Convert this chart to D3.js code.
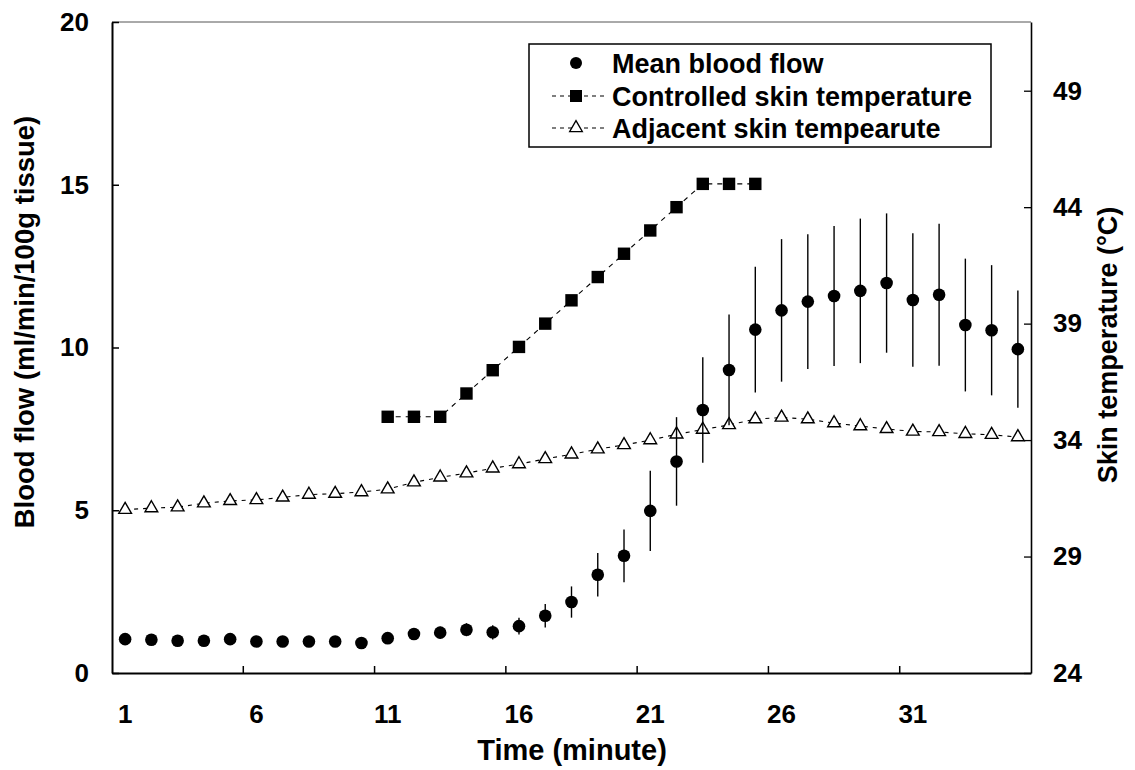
<!DOCTYPE html>
<html>
<head>
<meta charset="utf-8">
<script src="https://cdn.jsdelivr.net/npm/d3@7"></script>
<style>
  html, body { margin: 0; padding: 0; background: #fff; }
  svg text { font-family: "Liberation Sans", Arial, sans-serif; font-weight: bold; fill: #000; }
</style>
</head>
<body>
<svg id="chart" width="1135" height="770"></svg>
<script>
// ---- data ----
const minutes = [1,2,3,4,5,6,7,8,9,10,11,12,13,14,15,16,17,18,19,20,21,22,23,24,25,26,27,28,29,30,31,32,33,34,35];
const bloodFlow = [1.04,1.02,0.99,0.99,1.04,0.97,0.97,0.97,0.97,0.92,1.07,1.20,1.24,1.33,1.25,1.44,1.76,2.18,3.02,3.60,4.98,6.50,8.08,9.31,10.55,11.14,11.41,11.58,11.74,11.98,11.46,11.62,10.69,10.53,9.95];
const bloodFlowErr = [0.10,0.10,0.10,0.10,0.10,0.10,0.10,0.10,0.10,0.10,0.15,0.15,0.18,0.20,0.22,0.26,0.36,0.48,0.67,0.81,1.23,1.36,1.62,1.70,1.93,2.19,2.07,2.15,2.22,2.14,2.05,2.18,2.04,2.00,1.80];
const controlledTemp = [null,null,null,null,null,null,null,null,null,null,35,35,35,36,37,38,39,40,41,42,43,44,45,45,45,null,null,null,null,null,null,null,null,null,null];
const adjacentTemp = [31.01,31.08,31.12,31.29,31.39,31.43,31.54,31.66,31.70,31.77,31.89,32.19,32.40,32.58,32.79,32.97,33.19,33.39,33.61,33.79,34.00,34.25,34.45,34.65,34.90,34.97,34.90,34.73,34.60,34.48,34.37,34.35,34.27,34.23,34.13];
const xTickLabels = [1,6,11,16,21,26,31];
const leftTicks = [0,5,10,15,20];
const rightTicks = [24,29,34,39,44,49];
const legendLabels = ["Mean blood flow","Controlled skin temperature","Adjacent skin tempearute"];

// ---- layout ----
const svg = d3.select("#chart");
const L = 112, R = 1031, T = 22, B = 673;
const FONT = "Liberation Sans, Arial, sans-serif";
const TICK_FS = 26;

const x = d3.scaleBand().domain(minutes).range([L, R]).paddingInner(0).paddingOuter(0);
const cx = d => x(d) + x.bandwidth() / 2;
const yL = d3.scaleLinear().domain([0, 20]).range([B, T]);
const yR = d3.scaleLinear().domain([24, 51.95]).range([B, T]);

// frame (top)
svg.append("line").attr("x1", L).attr("x2", R).attr("y1", T).attr("y2", T)
  .attr("stroke", "#555").attr("stroke-width", 1);

// left axis
const gL = svg.append("g").attr("transform", `translate(${L},0)`)
  .call(d3.axisLeft(yL).tickValues(leftTicks).tickSizeInner(-7).tickSizeOuter(0).tickPadding(23));
gL.select(".domain").attr("stroke", "#000").attr("stroke-width", 2);
gL.selectAll(".tick line").attr("stroke", "#000").attr("stroke-width", 1.5);
gL.selectAll(".tick text").attr("font-size", TICK_FS).attr("font-family", FONT).attr("font-weight", "bold");

// right axis
const gR = svg.append("g").attr("transform", `translate(${R},0)`)
  .call(d3.axisRight(yR).tickValues(rightTicks).tickSizeInner(-7).tickSizeOuter(0).tickPadding(22));
gR.select(".domain").attr("stroke", "#000").attr("stroke-width", 1.6);
gR.selectAll(".tick line").attr("stroke", "#000").attr("stroke-width", 1.3);
gR.selectAll(".tick text").attr("font-size", TICK_FS).attr("font-family", FONT).attr("font-weight", "bold");

// bottom axis (labels at category centres, ticks between categories)
const gB = svg.append("g").attr("transform", `translate(0,${B})`)
  .call(d3.axisBottom(x).tickValues(xTickLabels).tickSize(0).tickPadding(32));
gB.select(".domain").attr("stroke", "#000").attr("stroke-width", 2);
gB.selectAll(".tick text").attr("font-size", TICK_FS).attr("font-family", FONT).attr("font-weight", "bold");
svg.append("g").selectAll("line").data(xTickLabels.slice(1)).join("line")
  .attr("x1", d => x(d)).attr("x2", d => x(d))
  .attr("y1", B).attr("y2", B - 7)
  .attr("stroke", "#000").attr("stroke-width", 1.5);

// axis titles
svg.append("text").attr("x", 572).attr("y", 760).attr("text-anchor", "middle")
  .attr("font-size", 29).text("Time (minute)");
svg.append("text").attr("transform", `translate(34,322) rotate(-90)`)
  .attr("text-anchor", "middle").attr("font-size", 27.5).text("Blood flow (ml/min/100g tissue)");
svg.append("text").attr("transform", `translate(1117,345) rotate(-90)`)
  .attr("text-anchor", "middle").attr("font-size", 27).text("Skin temperature (°C)");

// ---- series ----
const triPath = d3.symbol().type(d3.symbolTriangle).size(70);

// adjacent skin temperature (dashed line + open triangles)
const adj = minutes.map((m, i) => [m, adjacentTemp[i]]);
svg.append("path").datum(adj)
  .attr("fill", "none").attr("stroke", "#000").attr("stroke-width", 1.1)
  .attr("stroke-dasharray", "4,5")
  .attr("d", d3.line().x(d => cx(d[0])).y(d => yR(d[1])));
svg.append("g").selectAll("path").data(adj).join("path")
  .attr("transform", d => `translate(${cx(d[0])},${yR(d[1])})`)
  .attr("d", triPath).attr("fill", "#fff").attr("stroke", "#000").attr("stroke-width", 1.4);

// controlled skin temperature (dashed line + filled squares)
const ctData = minutes.map((m, i) => [m, controlledTemp[i]]).filter(d => d[1] !== null);
svg.append("path").datum(ctData)
  .attr("fill", "none").attr("stroke", "#000").attr("stroke-width", 1.1)
  .attr("stroke-dasharray", "5,5").attr("stroke-dashoffset", -8)
  .attr("d", d3.line().x(d => cx(d[0])).y(d => yR(d[1])));
svg.append("g").selectAll("rect").data(ctData).join("rect")
  .attr("x", d => cx(d[0]) - 6.2).attr("y", d => yR(d[1]) - 6.2)
  .attr("width", 12.4).attr("height", 12.4).attr("fill", "#000");

// blood flow: error bars + filled circles
const bf = minutes.map((m, i) => ({ m, v: bloodFlow[i], e: bloodFlowErr[i] }));
svg.append("g").selectAll("line").data(bf).join("line")
  .attr("x1", d => cx(d.m)).attr("x2", d => cx(d.m))
  .attr("y1", d => yL(d.v + d.e)).attr("y2", d => yL(d.v - d.e))
  .attr("stroke", "#000").attr("stroke-width", 1.4);
svg.append("g").selectAll("circle").data(bf).join("circle")
  .attr("cx", d => cx(d.m)).attr("cy", d => yL(d.v)).attr("r", 6.3).attr("fill", "#000");

// ---- legend ----
const lg = svg.append("g");
lg.append("rect").attr("x", 529).attr("y", 44).attr("width", 462).attr("height", 103)
  .attr("fill", "#fff").attr("stroke", "#000").attr("stroke-width", 1.5);
const rowY = [63, 96, 128];
const mx = 576;
lg.append("circle").attr("cx", mx).attr("cy", rowY[0]).attr("r", 6).attr("fill", "#000");
lg.append("line").attr("x1", 552).attr("x2", 604).attr("y1", rowY[1]).attr("y2", rowY[1])
  .attr("stroke", "#000").attr("stroke-width", 1.1).attr("stroke-dasharray", "4,4");
lg.append("rect").attr("x", mx - 6).attr("y", rowY[1] - 6).attr("width", 12).attr("height", 12).attr("fill", "#000");
lg.append("line").attr("x1", 552).attr("x2", 604).attr("y1", rowY[2]).attr("y2", rowY[2])
  .attr("stroke", "#000").attr("stroke-width", 1.1).attr("stroke-dasharray", "4,4");
lg.append("path").attr("transform", `translate(${mx},${rowY[2]})`).attr("d", triPath)
  .attr("fill", "#fff").attr("stroke", "#000").attr("stroke-width", 1.3);
lg.selectAll("text.lab").data(legendLabels).join("text").attr("class", "lab")
  .attr("x", 612).attr("y", (d, i) => rowY[i] + 9.5).attr("font-size", 27).text(d => d);
</script>
</body>
</html>
